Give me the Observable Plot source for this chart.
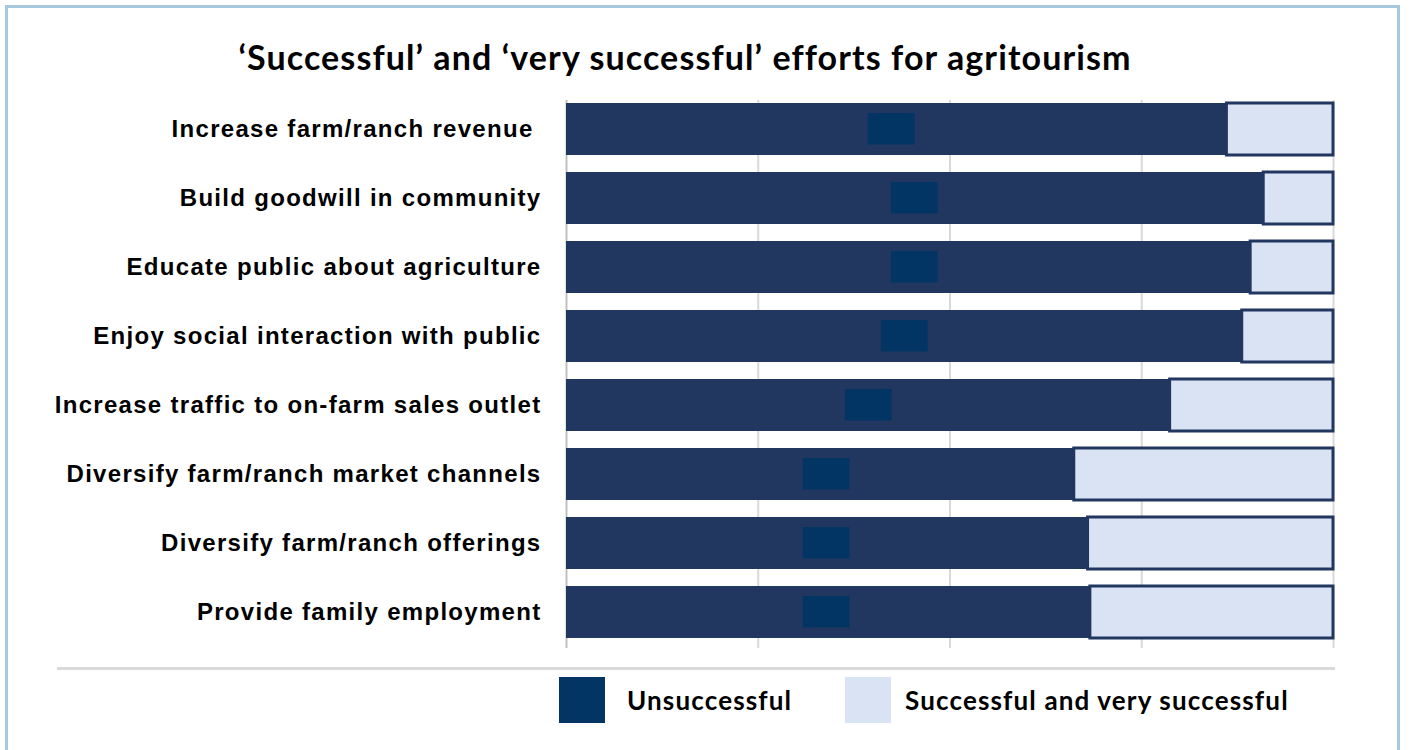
<!DOCTYPE html>
<html>
<head>
<meta charset="utf-8">
<script src="https://cdn.jsdelivr.net/npm/d3@7"></script>
<script src="https://cdn.jsdelivr.net/npm/@observablehq/plot@0.6"></script>
<style>
  html, body { margin: 0; padding: 0; background: #ffffff; }
  #wrap { position: relative; width: 1411px; height: 750px; overflow: hidden; background: #fff; }
  #frame { position: absolute; left: 5px; top: 5px; width: 1395px; height: 800px; border: 3px solid #a8c8de; box-sizing: border-box; }
  #title { position: absolute; left: 0; width: 1370px; top: 36px; text-align: center; font-family: Lato, "Open Sans", sans-serif; font-weight: 700; font-size: 34px; letter-spacing: 1.1px; color: #000; white-space: nowrap; }
  #chart { position: absolute; left: 0; top: 0; }
  #sep { position: absolute; left: 57px; top: 667px; width: 1278px; height: 3px; background: #d9d9d9; }
  .sw { position: absolute; top: 677px; width: 46px; height: 46px; }
  .lt { position: absolute; top: 683px; font-family: Lato, "Open Sans", sans-serif; font-weight: 700; font-size: 26px; letter-spacing: 1.15px; color: #000; white-space: nowrap; line-height: 34px; }
  #chart svg [aria-label="y-axis tick label"] text { letter-spacing: 1.3px; }
</style>
</head>
<body>
<div id="wrap">
  <div id="frame"></div>
  <div id="title"></div>
  <div id="chart"></div>
  <div id="sep"></div>
  <div id="legend"></div>
</div>
<script>
const categories = [
  "Increase farm/ranch revenue\u00a0",
  "Build goodwill in community",
  "Educate public about agriculture",
  "Enjoy social interaction with public",
  "Increase traffic to on-farm sales outlet",
  "Diversify farm/ranch market channels",
  "Diversify farm/ranch offerings",
  "Provide family employment"
];
const darkShare = [86.1, 90.9, 89.2, 88.1, 78.7, 66.2, 68.0, 68.3];
const markerPos = [42.4, 45.4, 45.4, 44.1, 39.4, 33.9, 33.9, 33.9];
const xTicks = [0, 25, 50, 75, 100];
const seriesNames = ["Unsuccessful", "Successful and very successful"];
const titleText = "\u2018Successful\u2019 and \u2018very successful\u2019 efforts for agritourism";

const rows = categories.map((c, i) => ({cat: c, v: darkShare[i], m: markerPos[i]}));

const darkColor = "#22375f";
const markColor = "#023564";
const lightColor = "#d9e3f3";

document.getElementById("title").textContent = titleText;

const chart = Plot.plot({
  width: 1411,
  height: 650,
  marginLeft: 566,
  marginRight: 78,
  marginTop: 100,
  marginBottom: 2,
  style: {fontFamily: "'Liberation Sans', Arial, sans-serif", background: "transparent"},
  x: {domain: [0, 100], axis: null},
  y: {domain: categories, range: [84.8, 656.9], padding: 0.243, axis: null},
  marks: [
    Plot.ruleX(xTicks, {stroke: "#d9d9d9", strokeWidth: 2}),
    Plot.ruleX([0], {stroke: "#bfbfbf", strokeWidth: 1.5}),
    Plot.barX(rows, {y: "cat", x1: 0, x2: "v", fill: darkColor}),
    Plot.barX(rows, {y: "cat", x1: "v", x2: 100, fill: lightColor, stroke: darkColor, strokeWidth: 3}),
    Plot.rect(rows, {y: "cat", x1: d => d.m - 3.05, x2: d => d.m + 3.05, fill: markColor, insetTop: 10, insetBottom: 10.5}),
    Plot.axisY({anchor: "left", tickSize: 0, tickPadding: 25, fontSize: 24, fontWeight: "bold", fill: "#000", label: null})
  ]
});
document.getElementById("chart").appendChild(chart);

const legend = document.getElementById("legend");
const legColors = [markColor, lightColor];
const swLeft = [559, 845];
const textLeft = [627, 905];
seriesNames.forEach((n, i) => {
  const sw = document.createElement("div");
  sw.className = "sw";
  sw.style.left = swLeft[i] + "px";
  sw.style.background = legColors[i];
  const t = document.createElement("div");
  t.className = "lt";
  t.style.left = textLeft[i] + "px";
  t.textContent = n;
  legend.appendChild(sw);
  legend.appendChild(t);
});
</script>
</body>
</html>
